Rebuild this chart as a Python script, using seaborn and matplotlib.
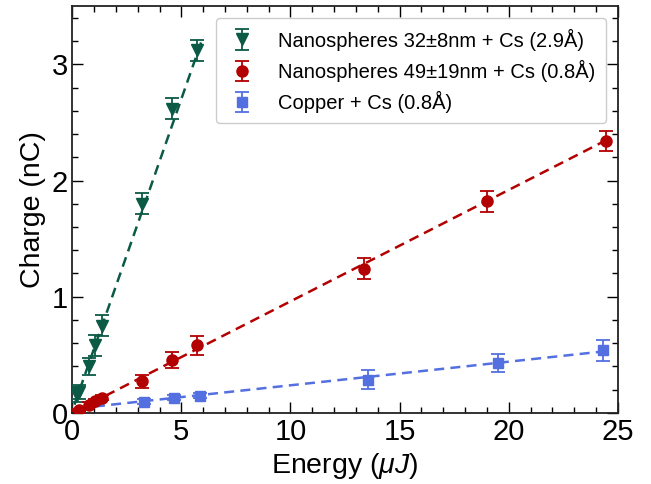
import matplotlib
matplotlib.use('Agg')
import matplotlib.pyplot as plt
from matplotlib.ticker import MultipleLocator
import seaborn as sns
from pandas import DataFrame

# measured points (energy in uJ, charge in nC, error in nC)
green_x = [0.2, 0.3, 0.75, 1.05, 1.36, 3.19, 4.59, 5.71]
green_y = [0.15, 0.18, 0.40, 0.58, 0.75, 1.80, 2.62, 3.12]
green_err = [0.06, 0.06, 0.07, 0.09, 0.09, 0.09, 0.09, 0.09]

red_x = [0.29, 0.75, 1.05, 1.36, 3.19, 4.59, 5.71, 13.37, 19.02, 24.48]
red_y = [0.025, 0.07, 0.10, 0.13, 0.27, 0.455, 0.58, 1.24, 1.82, 2.34]
red_err = [0.01, 0.02, 0.02, 0.02, 0.06, 0.07, 0.08, 0.09, 0.09, 0.09]

blue_x = [3.27, 4.67, 5.86, 13.55, 19.49, 24.3]
blue_y = [0.097, 0.13, 0.148, 0.285, 0.43, 0.54]
blue_err = [0.02, 0.02, 0.02, 0.08, 0.08, 0.09]

# dashed linear fits (end points)
green_fit_x = [0.1, 6.0]
green_fit_y = [0.07, 3.24]
red_fit_x = [0.2, 24.6]
red_fit_y = [0.02, 2.36]
blue_fit_x = [0.3, 24.4]
blue_fit_y = [0.04, 0.53]

labels = ['Nanospheres 32\u00b18nm + Cs (2.9\u00c5)',
          'Nanospheres 49\u00b119nm + Cs (0.8\u00c5)',
          'Copper + Cs (0.8\u00c5)']
colors = ['#0b5a45', '#b30000', '#5470e0']
markers = ['v', 'o', 's']

sns.set_style('ticks')
plt.rcParams['font.family'] = ['Liberation Sans', 'DejaVu Sans']
plt.rcParams['mathtext.fontset'] = 'custom'
plt.rcParams['mathtext.rm'] = 'Liberation Sans'
plt.rcParams['mathtext.it'] = 'Liberation Sans:italic'
plt.rcParams['text.color'] = 'black'
plt.rcParams['axes.labelcolor'] = 'black'
plt.rcParams['xtick.color'] = 'black'
plt.rcParams['ytick.color'] = 'black'

fig = plt.figure(figsize=(6.51, 4.84), dpi=100)
ax = fig.add_axes([0.111, 0.147, 0.838, 0.84])

series = [
    (green_x, green_y, green_err, green_fit_x, green_fit_y),
    (red_x, red_y, red_err, red_fit_x, red_fit_y),
    (blue_x, blue_y, blue_err, blue_fit_x, blue_fit_y),
]
for i, (x, y, err, fx, fy) in enumerate(series):
    fit = DataFrame({'x': fx, 'y': fy})
    sns.lineplot(data=fit, x='x', y='y', ax=ax, color=colors[i],
                 linestyle=(0, (4, 2.5)), linewidth=1.8, legend=False)
    ax.errorbar(x, y, yerr=err, fmt=markers[i], color=colors[i],
                markersize=8 if markers[i] != 's' else 7, capsize=5,
                elinewidth=1.3, capthick=1.3, label=labels[i], zorder=3)

ax.set_xlim(0, 25)
ax.set_ylim(0, 3.5)
ax.xaxis.set_major_locator(MultipleLocator(5))
ax.xaxis.set_minor_locator(MultipleLocator(1))
ax.yaxis.set_major_locator(MultipleLocator(1))
ax.yaxis.set_minor_locator(MultipleLocator(0.2))
ax.tick_params(which='both', direction='in', top=True, right=True,
               labelsize=21, width=1.0)
ax.tick_params(which='major', length=8)
ax.tick_params(axis='x', which='major', pad=4)
ax.tick_params(axis='y', which='major', pad=3)
ax.tick_params(which='minor', length=4)
for s in ax.spines.values():
    s.set_linewidth(1.3)
    s.set_color('#222222')

ax.set_xlabel(r'Energy ($\mu J$)', fontsize=20.5, labelpad=3)
ax.set_ylabel('Charge (nC)', fontsize=20.5, labelpad=4)

ax.legend(loc='upper right', fontsize=14.5, frameon=True, framealpha=1,
          edgecolor='#cccccc', handletextpad=1.0, handlelength=1.6,
          borderpad=0.5, labelspacing=0.45, bbox_to_anchor=(0.996, 0.995))

fig.savefig('out.png', dpi=100)
